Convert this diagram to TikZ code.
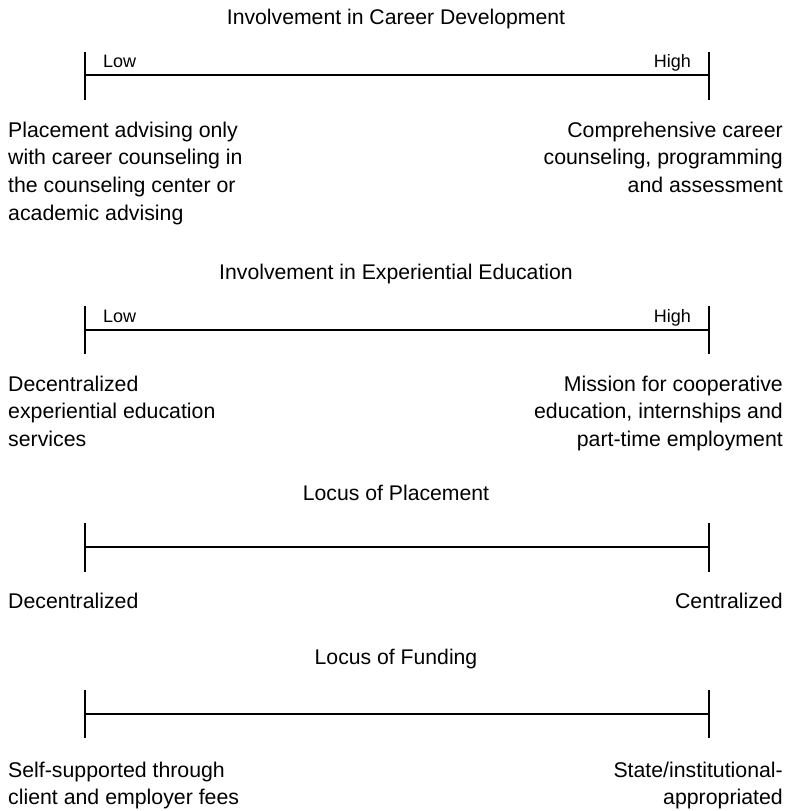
\documentclass[tikz,border=0pt]{standalone}
\usepackage{fontspec}
\setmainfont{Liberation Sans}
\begin{document}
\begin{tikzpicture}[x=1pt,y=-1pt,
  bar/.style={line width=1.8pt},
  ttl/.style={font=\fontsize{21.2}{24}\selectfont, anchor=base, inner sep=0pt},
  lh/.style={font=\fontsize{18}{21}\selectfont, inner sep=0pt},
  lbl/.style={font=\fontsize{21.3}{27.7}\selectfont, inner sep=0pt},
]
\useasboundingbox (0,0) rectangle (791,811);
% ---------- Bar 1
\node[ttl] (t1) at (396,24) {Involvement in Career Development};
\coordinate (a1t) at (85,52); \coordinate (a1b) at (85,100);
\coordinate (b1t) at (709,52); \coordinate (b1b) at (709,100);
\coordinate (a1) at (85,75); \coordinate (b1) at (709,75);
\draw[bar] (a1t) -- (a1b); \draw[bar] (b1t) -- (b1b); \draw[bar] (a1) -- (b1);
\node[lh, anchor=base west] (low1) at (103,67) {Low};
\node[lh, anchor=base east] (high1) at (691,67) {High};
\node[lbl, anchor=base west, align=left] (l1) at (8,220.1) {Placement advising only\\with career counseling in\\the counseling center or\\academic advising};
\node[lbl, anchor=base east, align=right] (r1) at (783,192.4) {Comprehensive career\\counseling, programming\\and assessment};
% ---------- Bar 2
\node[ttl] (t2) at (396,279) {Involvement in Experiential Education};
\coordinate (a2t) at (85,306); \coordinate (a2b) at (85,354);
\coordinate (b2t) at (709,306); \coordinate (b2b) at (709,354);
\coordinate (a2) at (85,330); \coordinate (b2) at (709,330);
\draw[bar] (a2t) -- (a2b); \draw[bar] (b2t) -- (b2b); \draw[bar] (a2) -- (b2);
\node[lh, anchor=base west] (low2) at (103,322) {Low};
\node[lh, anchor=base east] (high2) at (691,322) {High};
\node[lbl, anchor=base west, align=left] (l2) at (8,446.4) {Decentralized\\experiential education\\services};
\node[lbl, anchor=base east, align=right] (r2) at (783,446.4) {Mission for cooperative\\education, internships and\\part-time employment};
% ---------- Bar 3
\node[ttl] (t3) at (396,500) {Locus of Placement};
\coordinate (a3t) at (85,523); \coordinate (a3b) at (85,572);
\coordinate (b3t) at (709,523); \coordinate (b3b) at (709,572);
\coordinate (a3) at (85,547); \coordinate (b3) at (709,547);
\draw[bar] (a3t) -- (a3b); \draw[bar] (b3t) -- (b3b); \draw[bar] (a3) -- (b3);
\node[lbl, anchor=base west] (l3) at (8,608) {Decentralized};
\node[lbl, anchor=base east] (r3) at (783,608) {Centralized};
% ---------- Bar 4
\node[ttl] (t4) at (396,664) {Locus of Funding};
\coordinate (a4t) at (85,690); \coordinate (a4b) at (85,738);
\coordinate (b4t) at (709,690); \coordinate (b4b) at (709,738);
\coordinate (a4) at (85,714); \coordinate (b4) at (709,714);
\draw[bar] (a4t) -- (a4b); \draw[bar] (b4t) -- (b4b); \draw[bar] (a4) -- (b4);
\node[lbl, anchor=base west, align=left] (l4) at (8,804.7) {Self-supported through\\client and employer fees};
\node[lbl, anchor=base east, align=right] (r4) at (783,804.7) {State/institutional-\\appropriated};
\end{tikzpicture}
\end{document}
